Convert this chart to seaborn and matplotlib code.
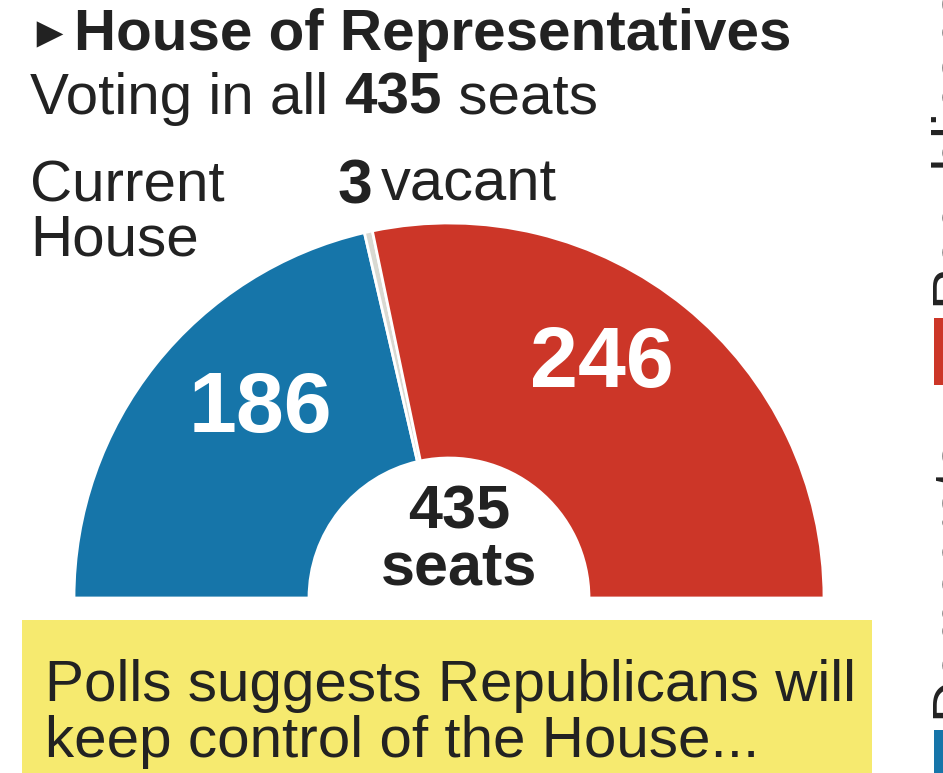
import matplotlib
matplotlib.use("Agg")
import matplotlib.pyplot as plt
from matplotlib.patches import Rectangle
import seaborn as sns

# ---- data ----
parties = ["Democrats", "Vacant", "Republicans"]
seats = [186, 3, 246]
total_seats = 435
legend_labels = ["Republicans", "Democrats"]

sns.set_theme(style="white")
plt.rcParams["font.family"] = ["Liberation Sans", "DejaVu Sans"]

palette = sns.color_palette(["#1675a9", "#d9d9d2", "#cc3628"])

W, H = 943, 773
fig = plt.figure(figsize=(W / 100, H / 100), dpi=100)
ax = fig.add_axes([0, 0, 1, 1])

def Y(py):
    return H - py

# semicircle donut
cx, cy = 449, Y(598)
vals = seats + [sum(seats)]
cols = list(palette) + [(1, 1, 1, 0)]
wedges, _ = ax.pie(vals, colors=cols, startangle=180, counterclock=False,
                   center=(cx, cy), radius=375, frame=True,
                   wedgeprops=dict(width=235, edgecolor="white", linewidth=2))
wedges[-1].set_visible(False)
ax.set_xlim(0, W)
ax.set_ylim(0, H)
ax.set_aspect("equal")
ax.axis("off")

def after(t, gap=0):
    fig.canvas.draw()
    bb = t.get_window_extent(renderer=fig.canvas.get_renderer())
    return bb.x1 + gap

ink = "#222222"
# title
ax.text(27, Y(36), "►", fontsize=32, va="center", ha="left", color=ink)
ax.text(74, Y(35), "House of Representatives", fontsize=42, fontweight="bold",
        va="center", ha="left", color=ink)
t1 = ax.text(30, Y(99), "Voting in all ", fontsize=42, va="center", ha="left", color=ink)
t2 = ax.text(after(t1), Y(99), f"{total_seats}", fontsize=42, fontweight="bold",
             va="center", ha="left", color=ink)
ax.text(after(t2), Y(99), " seats", fontsize=42, va="center", ha="left", color=ink)

ax.text(30, Y(214), "Current\nHouse", fontsize=42, va="center", ha="left",
        color=ink, linespacing=1.0)
t3 = ax.text(338, Y(187), f"{seats[1]}", fontsize=45, fontweight="bold",
             va="center", ha="left", color=ink)
ax.text(after(t3, 8), Y(185), "vacant", fontsize=43, va="center", ha="left", color=ink)

ax.text(260, Y(410), f"{seats[0]}", fontsize=62, fontweight="bold", color="white",
        ha="center", va="center")
ax.text(602, Y(365), f"{seats[2]}", fontsize=62, fontweight="bold", color="white",
        ha="center", va="center")
ax.text(459, Y(541), f"{total_seats}\nseats", fontsize=44, fontweight="bold",
        color=ink, ha="center", va="center", linespacing=0.97)

# yellow note box
ax.add_patch(Rectangle((22, 0), 850, Y(620), facecolor="#f6ea6f", edgecolor="none", zorder=1))
ax.text(45, Y(714), "Polls suggests Republicans will\nkeep control of the House...",
        fontsize=42, va="center", ha="left", color=ink, linespacing=1.07, zorder=2)

# legend at the right edge (cut off by the frame, as in the reference)
ax.add_patch(Rectangle((934, Y(385)), 20, 67, facecolor=palette[2], edgecolor="none"))
ax.add_patch(Rectangle((934, Y(773)), 20, 43, facecolor=palette[0], edgecolor="none"))
ax.text(927, Y(305), legend_labels[0], rotation=90, fontsize=42, ha="left", va="bottom",
        color=ink)
ax.text(927, Y(718), legend_labels[1], rotation=90, fontsize=42, ha="left", va="bottom",
        color=ink)

fig.savefig("out.png", dpi=100)
